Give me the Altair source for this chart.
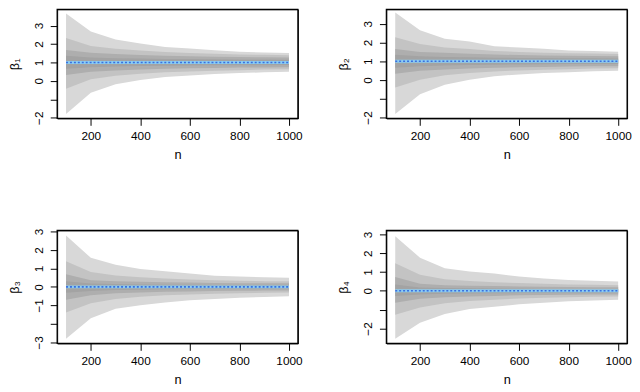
import altair as alt
import pandas as pd

n_vals = [100, 200, 300, 400, 500, 600, 700, 800, 900, 1000]

# ---- beta 1 ----
b1_outer_hi = [3.66, 2.68, 2.24, 2.03, 1.83, 1.75, 1.66, 1.58, 1.54, 1.51]
b1_outer_lo = [-1.80, -0.64, -0.19, 0.05, 0.21, 0.29, 0.37, 0.42, 0.46, 0.49]
b1_mid_hi = [2.32, 1.89, 1.74, 1.64, 1.56, 1.51, 1.47, 1.43, 1.41, 1.39]
b1_mid_lo = [-0.43, 0.08, 0.27, 0.38, 0.46, 0.51, 0.55, 0.58, 0.61, 0.63]
b1_inner_hi = [1.68, 1.52, 1.45, 1.40, 1.36, 1.33, 1.31, 1.29, 1.28, 1.27]
b1_inner_lo = [0.32, 0.49, 0.56, 0.61, 0.65, 0.68, 0.70, 0.72, 0.73, 0.74]
b1_core_hi = [1.36, 1.27, 1.23, 1.21, 1.19, 1.18, 1.17, 1.16, 1.16, 1.15]
b1_core_lo = [0.66, 0.74, 0.78, 0.80, 0.82, 0.83, 0.84, 0.85, 0.85, 0.86]
b1_mean = [1.00, 1.00, 1.00, 1.00, 1.00, 1.00, 1.00, 1.00, 1.00, 1.00]

# ---- beta 2 ----
b2_outer_hi = [3.60, 2.66, 2.20, 2.06, 1.80, 1.74, 1.67, 1.58, 1.55, 1.51]
b2_outer_lo = [-1.82, -0.76, -0.25, 0.01, 0.20, 0.30, 0.37, 0.42, 0.47, 0.49]
b2_mid_hi = [2.28, 1.92, 1.74, 1.65, 1.55, 1.50, 1.46, 1.43, 1.41, 1.39]
b2_mid_lo = [-0.40, 0.02, 0.25, 0.37, 0.46, 0.51, 0.55, 0.58, 0.61, 0.63]
b2_inner_hi = [1.65, 1.50, 1.45, 1.40, 1.36, 1.33, 1.31, 1.29, 1.28, 1.27]
b2_inner_lo = [0.34, 0.50, 0.56, 0.61, 0.65, 0.68, 0.70, 0.72, 0.73, 0.74]
b2_core_hi = [1.35, 1.27, 1.23, 1.21, 1.19, 1.18, 1.17, 1.16, 1.16, 1.15]
b2_core_lo = [0.66, 0.74, 0.78, 0.80, 0.82, 0.83, 0.84, 0.85, 0.85, 0.86]
b2_mean = [1.00, 1.00, 1.00, 1.00, 1.00, 1.00, 1.00, 1.00, 1.00, 1.00]

# ---- beta 3 ----
b3_outer_hi = [2.78, 1.57, 1.20, 0.97, 0.85, 0.72, 0.60, 0.56, 0.52, 0.49]
b3_outer_lo = [-2.80, -1.70, -1.18, -0.99, -0.85, -0.73, -0.65, -0.59, -0.55, -0.51]
b3_mid_hi = [1.38, 0.80, 0.62, 0.52, 0.45, 0.40, 0.36, 0.33, 0.31, 0.30]
b3_mid_lo = [-1.39, -0.88, -0.65, -0.54, -0.46, -0.41, -0.37, -0.34, -0.32, -0.30]
b3_inner_hi = [0.68, 0.36, 0.30, 0.27, 0.25, 0.23, 0.21, 0.20, 0.19, 0.19]
b3_inner_lo = [-0.70, -0.46, -0.35, -0.30, -0.27, -0.25, -0.23, -0.21, -0.20, -0.19]
b3_core_hi = [0.30, 0.18, 0.15, 0.13, 0.12, 0.11, 0.10, 0.10, 0.09, 0.09]
b3_core_lo = [-0.32, -0.22, -0.17, -0.15, -0.13, -0.12, -0.11, -0.10, -0.10, -0.09]
b3_mean = [0.00, 0.00, 0.00, 0.00, 0.00, 0.00, 0.00, 0.00, 0.00, 0.00]

# ---- beta 4 ----
b4_outer_hi = [2.90, 1.76, 1.20, 1.03, 0.92, 0.76, 0.65, 0.58, 0.53, 0.50]
b4_outer_lo = [-2.55, -1.70, -1.23, -0.97, -0.85, -0.72, -0.63, -0.56, -0.51, -0.48]
b4_mid_hi = [1.46, 0.86, 0.62, 0.52, 0.46, 0.41, 0.37, 0.34, 0.32, 0.30]
b4_mid_lo = [-1.27, -0.89, -0.66, -0.54, -0.47, -0.41, -0.37, -0.34, -0.32, -0.30]
b4_inner_hi = [0.73, 0.38, 0.30, 0.27, 0.25, 0.23, 0.21, 0.20, 0.19, 0.19]
b4_inner_lo = [-0.63, -0.42, -0.34, -0.30, -0.27, -0.24, -0.22, -0.21, -0.20, -0.19]
b4_core_hi = [0.33, 0.18, 0.15, 0.13, 0.12, 0.11, 0.10, 0.10, 0.09, 0.09]
b4_core_lo = [-0.28, -0.20, -0.16, -0.14, -0.13, -0.12, -0.11, -0.10, -0.10, -0.09]
b4_mean = [0.00, 0.00, 0.00, 0.00, 0.00, 0.00, 0.00, 0.00, 0.00, 0.00]

truth_vals = [1, 1, 0, 0]
titles = ["β₁", "β₂", "β₃", "β₄"]
x_ticks = [200, 400, 600, 800, 1000]
x_domain = [64, 1036]

band_names = ["outer", "mid", "inner", "core"]
band_colors = {"outer": "#d8d8d8", "mid": "#c3c3c3", "inner": "#aeaeae", "core": "#a3a3a3"}

FONT = "Liberation Sans"
W = 245


def panel(title, bands, mean, truth, ydomain, yticks, hide, height):
    rows = []
    for name, (lo, hi) in zip(band_names, bands):
        for n, a, b in zip(n_vals, lo, hi):
            rows.append({"band": name, "n": n, "lo": a, "hi": b})
    df = pd.DataFrame(rows)
    dl = pd.DataFrame({"n": n_vals, "lo": mean, "truth": [truth] * len(n_vals)})
    frame = pd.DataFrame({"n": [x_domain[0]], "n2": [x_domain[1]],
                          "lo": [ydomain[0]], "hi": [ydomain[1]]})

    xs = alt.Scale(domain=x_domain, nice=False, zero=False)
    ys = alt.Scale(domain=ydomain, nice=False, zero=False)
    hide_expr = " || ".join(f"datum.value == {h}" for h in hide) if hide else "false"
    xax = alt.Axis(values=x_ticks, title="n", format="d")
    yax = alt.Axis(values=yticks, title=title,
                   labelExpr=f"({hide_expr}) ? '' : datum.label")
    layers = []
    for name in band_names:
        layers.append(
            alt.Chart(df).transform_filter(alt.datum.band == name)
            .mark_area(color=band_colors[name], opacity=1)
            .encode(x=alt.X("n:Q", scale=xs, axis=xax),
                    y=alt.Y("lo:Q", scale=ys, axis=yax),
                    y2="hi:Q")
        )
    layers.append(
        alt.Chart(dl).mark_line(color="#8ccdf2", strokeWidth=3)
        .encode(x=alt.X("n:Q", scale=xs, axis=xax),
                y=alt.Y("truth:Q", scale=ys, axis=yax))
    )
    layers.append(
        alt.Chart(dl).mark_line(color="#3b6fe0", strokeWidth=1.6, strokeDash=[2, 2])
        .encode(x=alt.X("n:Q", scale=xs, axis=xax),
                y=alt.Y("lo:Q", scale=ys, axis=yax))
    )
    # plot box (R style)
    layers.append(
        alt.Chart(frame).mark_rect(filled=False, stroke="black", strokeWidth=1.2,
                                   strokeOpacity=1)
        .encode(x=alt.X("n:Q", scale=xs, axis=xax), x2="n2:Q",
                y=alt.Y("lo:Q", scale=ys, axis=yax), y2="hi:Q")
    )
    return alt.layer(*layers).properties(width=W, height=height)


p1 = panel(titles[0], [(b1_outer_lo, b1_outer_hi), (b1_mid_lo, b1_mid_hi),
                       (b1_inner_lo, b1_inner_hi), (b1_core_lo, b1_core_hi)],
           b1_mean, truth_vals[0], [-2.04, 3.88], [-2, -1, 0, 1, 2, 3], [-1], 111)
p2 = panel(titles[1], [(b2_outer_lo, b2_outer_hi), (b2_mid_lo, b2_mid_hi),
                       (b2_inner_lo, b2_inner_hi), (b2_core_lo, b2_core_hi)],
           b2_mean, truth_vals[1], [-2.05, 3.77], [-2, -1, 0, 1, 2, 3], [-1], 111)
p3 = panel(titles[2], [(b3_outer_lo, b3_outer_hi), (b3_mid_lo, b3_mid_hi),
                       (b3_inner_lo, b3_inner_hi), (b3_core_lo, b3_core_hi)],
           b3_mean, truth_vals[2], [-3.06, 3.05], [-3, -2, -1, 0, 1, 2, 3], [-2], 115)
p4 = panel(titles[3], [(b4_outer_lo, b4_outer_hi), (b4_mid_lo, b4_mid_hi),
                       (b4_inner_lo, b4_inner_hi), (b4_core_lo, b4_core_hi)],
           b4_mean, truth_vals[3], [-2.80, 3.21], [-2, -1, 0, 1, 2, 3], [-1], 115)

row1 = alt.hconcat(p1, p2, spacing=35)
row2 = alt.hconcat(p3, p4, spacing=35)
chart = alt.vconcat(row1, row2, spacing=66).properties(
    padding={"left": 0, "top": -4, "right": 0, "bottom": 0}
).configure_view(
    stroke="black", strokeWidth=1
).configure_axis(
    grid=False, domain=False, ticks=True, tickColor="black", tickSize=7,
    tickWidth=1, labelColor="black", labelFont=FONT, labelFontSize=12,
    titleFont=FONT, titleFontSize=13, titleFontWeight="normal",
    titleColor="black", labelPadding=4
).configure_axisX(
    labelPadding=5, titlePadding=8
).configure_axisY(
    labelAngle=-90, labelAlign="center", labelBaseline="bottom",
    labelPadding=5, titlePadding=11
)

chart.save("out.html", embed_options={"renderer": "svg", "actions": False})
